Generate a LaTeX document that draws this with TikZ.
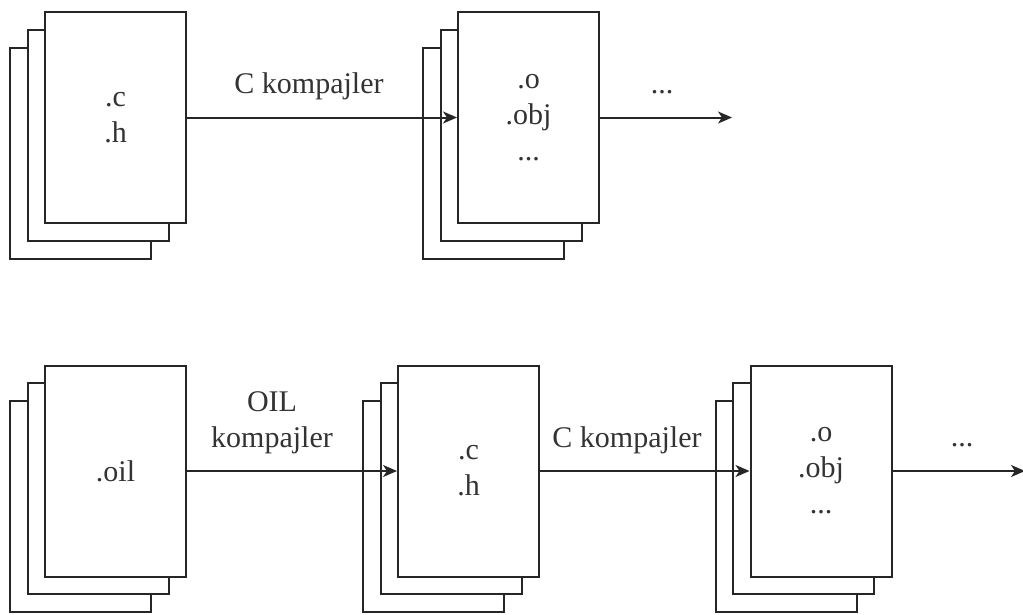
\documentclass[tikz,border=0pt]{standalone}
\usepackage{fontspec}
\setmainfont{Liberation Serif}
\usetikzlibrary{arrows.meta}
\begin{document}
\begin{tikzpicture}[x=1pt,y=-1pt,
  page/.style={draw=black!85, line width=2pt, fill=white, minimum width=141pt,
    minimum height=211pt, inner sep=0pt, font=\fontsize{30}{36}\selectfont,
    align=center, text=black!80},
  flow/.style={draw=black!85, line width=2pt, -{Stealth[length=14pt,width=12pt,inset=4pt]}},
  lbl/.style={font=\fontsize{30}{36}\selectfont, align=center, text=black!80, inner sep=0pt}]
\useasboundingbox (0,0) rectangle (1023,614);
% top row, stack 1
\node[page] (a3) at (80.5,153) {};
\node[page] (a2) at (98,135.5) {};
\node[page] (a1) at (115.5,117.5) {.c\\.h};
% top row, stack 2
\node[page] (b3) at (493.5,153) {};
\node[page] (b2) at (511,135.5) {};
\node[page] (b1) at (528.5,117.5) {.o\\.obj\\...};
\coordinate (bend) at (732,117.5);
\draw[flow] (a1.east) -- (b1.west);
\draw[flow] (b1.east) -- (bend);
\node[lbl, anchor=base] (l1) at (309,93) {C kompajler};
\node[lbl, anchor=base] (l2) at (662,93) {...};
% bottom row, stack A
\node[page] (c3) at (80.5,506) {};
\node[page] (c2) at (98,488.5) {};
\node[page] (c1) at (115.5,471) {.oil};
% stack B
\node[page] (d3) at (433.5,506) {};
\node[page] (d2) at (451,488.5) {};
\node[page] (d1) at (468.5,471) {.c\\.h};
% stack C
\node[page] (e3) at (786,506) {};
\node[page] (e2) at (803.5,488.5) {};
\node[page] (e1) at (821,471) {.o\\.obj\\...};
\coordinate (eend) at (1025,471);
\draw[flow] (c1.east) -- (d1.west);
\draw[flow] (d1.east) -- (e1.west);
\draw[flow] (e1.east) -- (eend);
\node[lbl] (l3) at (272,423) {OIL\\kompajler};
\node[lbl, anchor=base] (l4) at (627,447) {C kompajler};
\node[lbl, anchor=base] (l5) at (962,446) {...};
\end{tikzpicture}
\end{document}
